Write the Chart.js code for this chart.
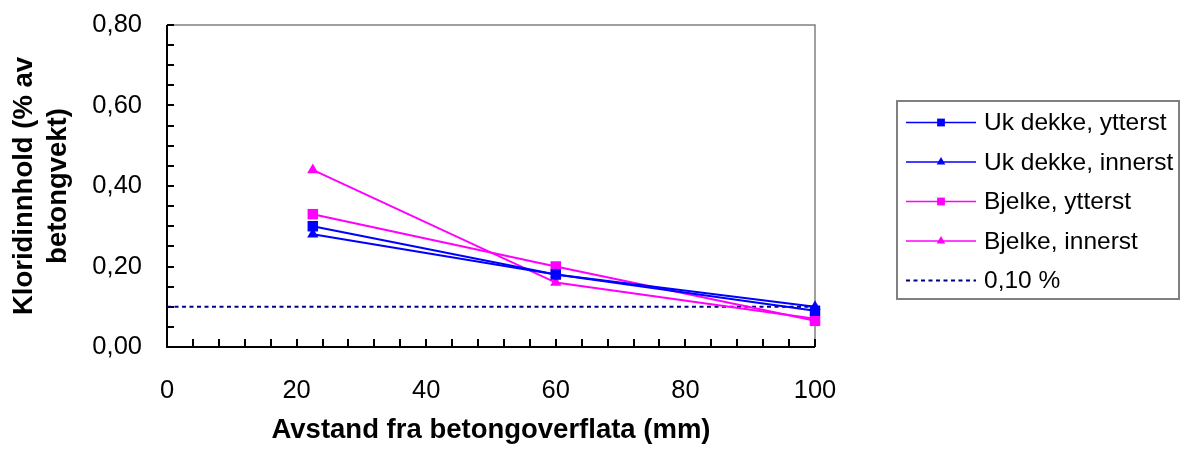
<!DOCTYPE html>
<html>
<head>
<meta charset="utf-8">
<script src="https://cdn.jsdelivr.net/npm/chart.js@4"></script>
<style>
  html, body { margin: 0; padding: 0; background: #fff; }
  #wrap { width: 1181px; height: 450px; position: relative; }
</style>
</head>
<body>
<div id="wrap"><canvas id="klorid"></canvas></div>
<script>
// distance from concrete surface (mm) and chloride content (% of concrete weight)
const distance = [22.5, 60, 100];
const ukYtterst = [0.30, 0.18, 0.09];
const ukInnerst = [0.28, 0.18, 0.10];
const bjelkeYtterst = [0.33, 0.20, 0.065];
const bjelkeInnerst = [0.44, 0.16, 0.07];
const limitX = [0, 100];
const limitY = [0.10, 0.10];

const seriesLabels = ['Uk dekke, ytterst', 'Uk dekke, innerst', 'Bjelke, ytterst', 'Bjelke, innerst', '0,10 %'];
const xTicks = [0, 20, 40, 60, 80, 100];
const yTicks = [0, 0.2, 0.4, 0.6, 0.8];

const FONT = "'Liberation Sans', Arial, sans-serif";
const BLUE = '#0000ff', PINK = '#ff00ff', NAVY = '#000080';

const pts = (xs, ys) => xs.map((x, i) => ({ x, y: ys[i] }));

function series(label, ys, color, style, r) {
  return {
    label, data: pts(distance, ys), showLine: true, clip: false,
    borderColor: color, backgroundColor: color, borderWidth: 2,
    pointStyle: style, pointRadius: r, pointBorderWidth: 0, pointHoverRadius: r
  };
}

const datasets = [
  series(seriesLabels[0], ukYtterst, BLUE, 'rect', 7.4),
  series(seriesLabels[1], ukInnerst, BLUE, 'triangle', 6.5),
  series(seriesLabels[2], bjelkeYtterst, PINK, 'rect', 7.4),
  series(seriesLabels[3], bjelkeInnerst, PINK, 'triangle', 6.5),
  {
    label: seriesLabels[4], data: pts(limitX, limitY), showLine: true, clip: false,
    borderColor: NAVY, borderWidth: 2, borderDash: [4, 3.5], pointRadius: 0
  }
];

// axes frame, inward tick marks and axis titles
const framePlugin = {
  id: 'frame',
  beforeDatasetsDraw(chart) {
    const { ctx, chartArea: a, scales: { x, y } } = chart;
    ctx.save();
    ctx.strokeStyle = '#808080';
    ctx.lineWidth = 1.5;
    ctx.beginPath();
    ctx.moveTo(a.left, a.top); ctx.lineTo(a.right, a.top); ctx.lineTo(a.right, a.bottom);
    ctx.stroke();

    ctx.strokeStyle = '#000';
    ctx.lineWidth = 2;
    ctx.beginPath();
    ctx.moveTo(a.left, a.top); ctx.lineTo(a.left, a.bottom); ctx.lineTo(a.right, a.bottom);
    for (let v = 0; v <= 100; v += 4) {
      const px = Math.round(x.getPixelForValue(v));
      ctx.moveTo(px, a.bottom); ctx.lineTo(px, a.bottom - 8);
    }
    for (let k = 0; k <= 16; k++) {
      const py = Math.round(y.getPixelForValue(k * 0.05));
      ctx.moveTo(a.left, py); ctx.lineTo(a.left + 7, py);
    }
    ctx.stroke();

    ctx.fillStyle = '#000';
    ctx.font = 'bold 27.5px ' + FONT;
    ctx.textAlign = 'center';
    ctx.textBaseline = 'middle';
    ctx.fillText('Avstand fra betongoverflata (mm)', (a.left + a.right) / 2, 430);

    ctx.translate(0, (a.top + a.bottom) / 2);
    ctx.rotate(-Math.PI / 2);
    ctx.fillText('Kloridinnhold (% av', 0, 24);
    ctx.fillText('betongvekt)', 0, 58);
    ctx.restore();
  }
};

// boxed legend on the right
const legendPlugin = {
  id: 'boxLegend',
  afterDraw(chart) {
    const { ctx } = chart;
    ctx.save();
    ctx.strokeStyle = '#808080';
    ctx.lineWidth = 2;
    ctx.strokeRect(897, 101, 282, 198);

    chart.data.datasets.forEach((ds, i) => {
      const cy = 122.5 + i * 39.5;
      ctx.strokeStyle = ds.borderColor;
      ctx.lineWidth = i === 4 ? 2 : 1.5;
      ctx.setLineDash(ds.borderDash || []);
      ctx.beginPath();
      ctx.moveTo(906, cy); ctx.lineTo(976, cy);
      ctx.stroke();
      ctx.setLineDash([]);
      if (ds.pointRadius) {
        ctx.fillStyle = ds.backgroundColor;
        Chart.helpers.drawPoint(ctx, {
          pointStyle: ds.pointStyle,
          radius: ds.pointStyle === 'rect' ? 5.5 : 5,
          borderWidth: 0, rotation: 0
        }, 941, cy);
      }
      ctx.fillStyle = '#000';
      ctx.font = '24.5px ' + FONT;
      ctx.textAlign = 'left';
      ctx.textBaseline = 'middle';
      ctx.fillText(ds.label, 984, cy + 1);
    });
    ctx.restore();
  }
};

new Chart(document.getElementById('klorid'), {
  type: 'scatter',
  data: { datasets },
  options: {
    responsive: true,
    maintainAspectRatio: false,
    animation: false,
    layout: { padding: { left: 0, right: 366, top: 25, bottom: 0 } },
    plugins: { legend: { display: false }, tooltip: { enabled: false } },
    scales: {
      x: {
        type: 'linear', min: 0, max: 100,
        afterFit: s => { s.height = 103; s.paddingLeft = 0; s.paddingRight = 0; },
        afterBuildTicks: s => { s.ticks = xTicks.map(v => ({ value: v })); },
        grid: { display: false, drawTicks: false, tickLength: 0 },
        border: { display: false },
        ticks: { color: '#000', font: { size: 25.5, family: FONT }, padding: 29, maxRotation: 0 }
      },
      y: {
        type: 'linear', min: 0, max: 0.8,
        afterFit: s => { s.width = 167; s.paddingTop = 0; s.paddingBottom = 0; },
        afterBuildTicks: s => { s.ticks = yTicks.map(v => ({ value: v })); },
        grid: { display: false, drawTicks: false, tickLength: 0 },
        border: { display: false },
        ticks: {
          color: '#000', font: { size: 25.5, family: FONT }, padding: 25,
          callback: v => v.toFixed(2).replace('.', ',')
        }
      }
    }
  },
  plugins: [framePlugin, legendPlugin]
});
</script>
</body>
</html>
